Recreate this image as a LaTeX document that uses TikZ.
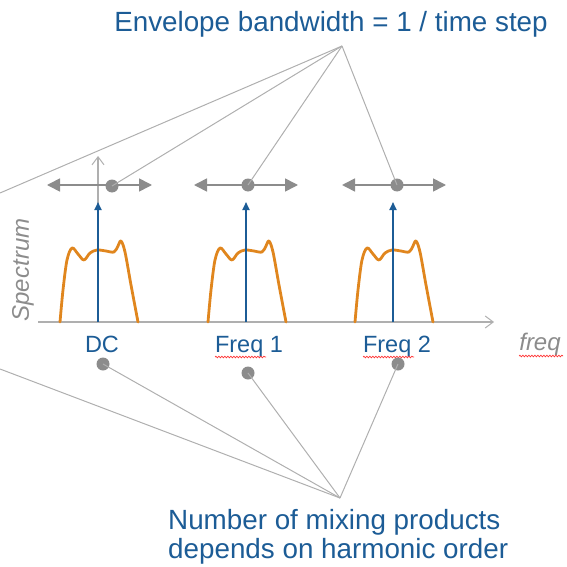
\documentclass[tikz,border=0pt]{standalone}
\usepackage{fontspec}
\setmainfont{Liberation Sans}
\usetikzlibrary{arrows.meta,decorations.pathmorphing}
\definecolor{tblue}{RGB}{28,92,150}
\definecolor{torange}{RGB}{224,134,30}
\definecolor{tgray}{RGB}{140,140,140}
\definecolor{lgray}{RGB}{175,175,175}
\tikzset{
  conn/.style={draw=lgray,line width=1pt},
  dotnode/.style={circle,fill=tgray,inner sep=0pt,minimum size=13pt},
  dblarrow/.style={draw=tgray,line width=1.6pt,{Triangle[length=13pt,width=13pt]}-{Triangle[length=13pt,width=13pt]}},
  bluearrow/.style={draw=tblue,line width=1.8pt,-{Triangle[length=8pt,width=7pt]}},
  axisarrow/.style={draw=lgray,line width=1.1pt,-{Straight Barb[length=8pt,width=12pt,line width=1pt]}},
  spec/.style={draw=torange,line width=2.8pt,line join=round,line cap=round},
  bluelabel/.style={text=tblue,font=\fontsize{23.5}{26}\selectfont,inner sep=0pt,anchor=base},
  graylabel/.style={text=tgray,font=\fontsize{24}{26}\selectfont\itshape,inner sep=0pt},
  bigtext/.style={text=tblue,font=\fontsize{27.8}{28.5}\selectfont,inner sep=0pt},
  squig/.style={draw=red!80!white,line width=0.7pt,decorate,decoration={snake,segment length=3pt,amplitude=0.8pt}}
}
\begin{document}
\begin{tikzpicture}[x=1pt,y=-1pt]
\useasboundingbox (0,0) rectangle (567,567);
% texts
\node[bigtext,anchor=base] (title) at (331,32) {Envelope bandwidth = 1 / time step};
\node[bigtext,anchor=base west,align=left] (bottom) at (168,558) {Number of mixing products\\depends on harmonic order};
\coordinate (topapex) at (342,46);
\coordinate (botapex) at (340,498);
\coordinate (leftA) at (0,193);
\coordinate (leftB) at (0,369);
% axes
\coordinate (xaxS) at (38,322);
\coordinate (xaxE) at (494,322);
\coordinate (yaxS) at (98,322);
\coordinate (yaxE) at (98,156);
\draw[axisarrow] (xaxS) -- (xaxE);
\draw[axisarrow] (yaxS) -- (yaxE);
\node[graylabel,rotate=90] (spectrum) at (23,270) {Spectrum};
\node[graylabel,anchor=base] (freq) at (540,350) {freq};
% spectra
\foreach \c/\nm in {98/a,246/b,393/c}{
  \draw[spec] plot[smooth,tension=0.55] coordinates {
    (\c-38,322) (\c-35,290) (\c-31,260) (\c-26,248) (\c-20,254) (\c-14,260)
    (\c-8,253) (\c-1,250) (\c+8,251) (\c+16,252) (\c+20,246) (\c+23,241)
    (\c+27,252) (\c+33,285) (\c+40,322)};
  \coordinate (base\nm) at (\c,322);
  \coordinate (tip\nm) at (\c,202);
  \draw[bluearrow] (base\nm) -- (tip\nm);
}
% double arrows
\coordinate (dl1) at (47,185); \coordinate (dr1) at (152,185);
\coordinate (dl2) at (194,185); \coordinate (dr2) at (298,185);
\coordinate (dl3) at (342,185); \coordinate (dr3) at (446,185);
\draw[dblarrow] (dl1) -- (dr1);
\draw[dblarrow] (dl2) -- (dr2);
\draw[dblarrow] (dl3) -- (dr3);
% top dots
\node[dotnode] (td1) at (112,186) {};
\node[dotnode] (td2) at (248,185) {};
\node[dotnode] (td3) at (397,185) {};
% labels
\node[bluelabel] (dc) at (102,352) {DC};
\node[bluelabel] (f1) at (249,352) {Freq 1};
\node[bluelabel] (f2) at (397,352) {Freq 2};
\coordinate (s1a) at (215,357); \coordinate (s1b) at (266,357);
\coordinate (s2a) at (363,357); \coordinate (s2b) at (414,357);
\coordinate (s3a) at (519,356); \coordinate (s3b) at (563,356);
\draw[squig] (s1a) -- (s1b);
\draw[squig] (s2a) -- (s2b);
\draw[squig] (s3a) -- (s3b);
% bottom dots
\node[dotnode] (bd1) at (103,364) {};
\node[dotnode] (bd2) at (248,373) {};
\node[dotnode] (bd3) at (398,364) {};
% connectors
\draw[conn] (topapex) -- (leftA);
\draw[conn] (topapex) -- (td1.center);
\draw[conn] (topapex) -- (td2.center);
\draw[conn] (topapex) -- (td3.center);
\draw[conn] (botapex) -- (leftB);
\draw[conn] (botapex) -- (bd1.center);
\draw[conn] (botapex) -- (bd2.center);
\draw[conn] (botapex) -- (bd3.center);
\end{tikzpicture}
\end{document}
